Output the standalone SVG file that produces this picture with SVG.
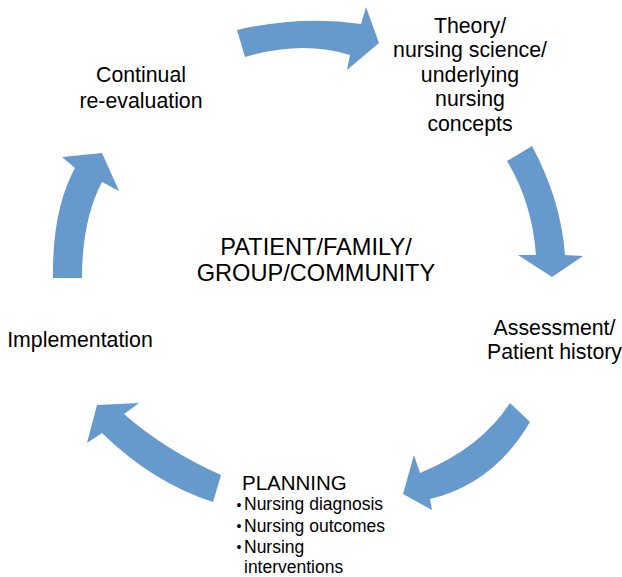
<svg xmlns="http://www.w3.org/2000/svg" width="622" height="577" viewBox="0 0 622 577">
<style>
.arrow{fill:#6699CC;stroke:none}
text{font-family:"Liberation Sans",Arial,sans-serif;fill:#000}
.lbl{font-size:21.3px;text-anchor:middle}
.ctr{font-size:23.6px;text-anchor:middle}
.plan{font-size:20.5px}
.bul{font-size:17.5px}
.dot{font-size:14px}
</style>
<rect width="622" height="577" fill="#fff"/>
<g id="connectors">
<path class="arrow" d="M237,30 Q301,15 361,24 L366,7 L379,43 L347,70 L350,55 Q302,40 245,57 Z"/>
<path class="arrow" d="M532,146 Q561,200 565,255 L583,256 L552,277 L518,255 L536,255 Q532,202 507,161 Z"/>
<path class="arrow" d="M510,403 Q481,448 420,473 L414,455 L403,494 L432,510 L430,499 Q494,483.5 530,422 Z"/>
<path class="arrow" d="M221,475 Q165,450 124,414 L139,403 L97,405 L87,443 L102,433 Q152.5,482.5 213,502 Z"/>
<path class="arrow" d="M53,278 Q52,210 75,168 L62,157 L102,153 L119,191 L102,182 Q82,220 82,278 Z"/>
</g>
<g id="theory">
<text class="lbl" x="470" y="32.5">Theory/</text>
<text class="lbl" x="470" y="57">nursing science/</text>
<text class="lbl" x="470" y="81.5">underlying</text>
<text class="lbl" x="470" y="106">nursing</text>
<text class="lbl" x="470" y="130.5">concepts</text>
</g>
<g id="assessment">
<text class="lbl" x="554.5" y="334.5">Assessment/</text>
<text class="lbl" x="554.5" y="358.5">Patient history</text>
</g>
<g id="planning">
<text class="plan" x="242" y="489.5">PLANNING</text>
<text class="dot" x="236.5" y="509.5">•</text>
<text class="bul" x="244" y="510">Nursing diagnosis</text>
<text class="dot" x="236.5" y="531">•</text>
<text class="bul" x="244" y="531.5">Nursing outcomes</text>
<text class="dot" x="236.5" y="552">•</text>
<text class="bul" x="244" y="552.5">Nursing</text>
<text class="bul" x="244" y="573">interventions</text>
</g>
<g id="implementation">
<text class="lbl" x="80" y="346.5">Implementation</text>
</g>
<g id="reevaluation">
<text class="lbl" x="141" y="82">Continual</text>
<text class="lbl" x="141" y="108">re-evaluation</text>
</g>
<g id="center">
<text class="ctr" x="316" y="255">PATIENT/FAMILY/</text>
<text class="ctr" x="316" y="281">GROUP/COMMUNITY</text>
</g>
</svg>
